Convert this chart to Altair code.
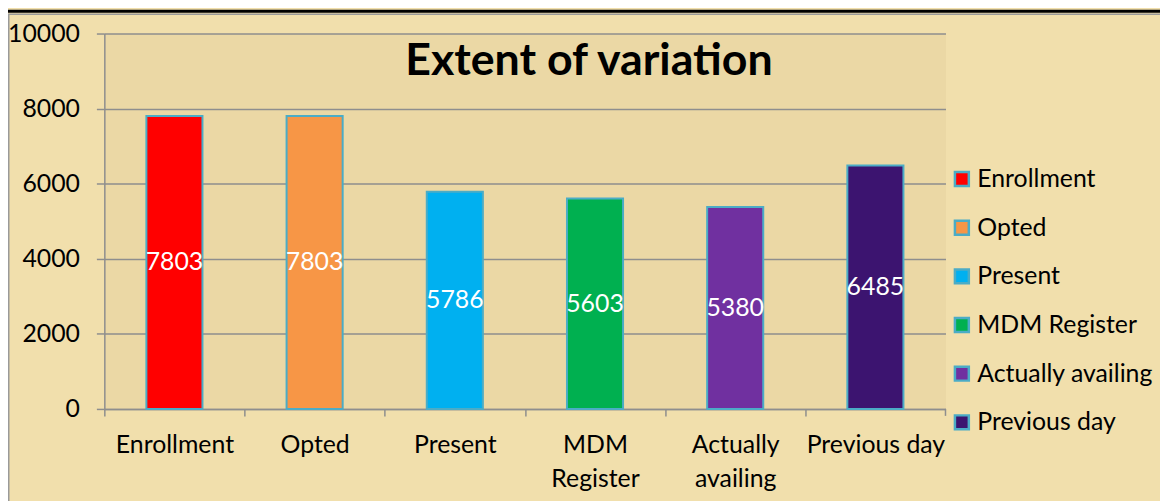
import altair as alt
import pandas as pd

CATEGORIES = ["Enrollment", "Opted", "Present", "MDM Register", "Actually availing", "Previous day"]
VALUES = [7803, 7803, 5786, 5603, 5380, 6485]
COLORS = ["#FF0000", "#F79646", "#00B0F0", "#00B050", "#7030A0", "#3C1470"]
AXIS_LINES = [["Enrollment"], ["Opted"], ["Present"], ["MDM", "Register"],
              ["Actually", "availing"], ["Previous day"]]
Y_TICKS = [0, 2000, 4000, 6000, 8000, 10000]
TITLE = "Extent of variation"

FONT = "Lato"
GRAY = "#8E8E8E"
W, H = 847, 378
STEP = W / len(CATEGORIES)

df = pd.DataFrame({"cat": CATEGORIES, "value": VALUES})

# multi-line axis label expression
expr = "datum.label"
for cat, lines in reversed(list(zip(CATEGORIES, AXIS_LINES))):
    if len(lines) > 1:
        arr = "[" + ",".join("'" + s + "'" for s in lines) + "]"
        expr = f"datum.label == '{cat}' ? {arr} : ({expr})"

x_enc = alt.X(
    "cat:N", sort=CATEGORIES,
    scale=alt.Scale(paddingInner=0.6, paddingOuter=0.3),
    axis=alt.Axis(title=None, labelAngle=0, tickOffset=-STEP / 2, labelOffset=STEP / 2,
                  tickSize=7, tickColor=GRAY, tickWidth=1.5,
                  domainColor=GRAY, domainWidth=1.5,
                  labelFont=FONT, labelFontSize=25, labelColor="black",
                  labelPadding=17, labelLineHeight=34, labelOverlap=False,
                  labelExpr=expr),
)
y_scale = alt.Scale(domain=[0, 10000])

base = alt.Chart(df)

bars = base.mark_bar(stroke="#4BACC6", strokeWidth=2).encode(
    x=x_enc,
    y=alt.Y("value:Q", scale=y_scale,
            axis=alt.Axis(title=None, values=Y_TICKS, format="d", tickSize=8, tickColor=GRAY,
                          tickWidth=1.5, domainColor=GRAY, domainWidth=1.5,
                          gridColor=GRAY, gridWidth=1.5,
                          labelFont=FONT, labelFontSize=25, labelColor="black",
                          labelPadding=17)),
    color=alt.Color("cat:N", sort=CATEGORIES,
                    scale=alt.Scale(domain=CATEGORIES, range=COLORS),
                    legend=alt.Legend(title=None, orient="none", legendX=851, legendY=134,
                                      direction="vertical", symbolType="square", symbolSize=196,
                                      symbolStrokeColor="#4BACC6", symbolStrokeWidth=2.5,
                                      labelFont=FONT, labelFontSize=25, labelColor="black",
                                      labelOffset=3, rowPadding=23, labelLimit=300)),
)

labels = base.transform_calculate(mid="datum.value / 2").mark_text(
    color="white", font=FONT, fontSize=25, baseline="middle", align="center"
).encode(
    x=alt.X("cat:N", sort=CATEGORIES),
    y=alt.Y("mid:Q", scale=y_scale),
    text=alt.Text("value:Q", format="d"),
)

title = alt.Chart(pd.DataFrame({"t": [TITLE]})).mark_text(
    font=FONT, fontSize=45, fontWeight="bold", color="black", align="center", baseline="alphabetic"
).encode(text="t:N", x=alt.value(488), y=alt.value(42))

one = pd.DataFrame({"a": [0]})
top_black = alt.Chart(one).mark_rule(color="black", strokeWidth=3).encode(
    x=alt.value(-97), x2=alt.value(1070), y=alt.value(-22.5))
top_gray = alt.Chart(one).mark_rule(color="#9A9A9A", strokeWidth=1.5).encode(
    x=alt.value(-97), x2=alt.value(1070), y=alt.value(-19.5))
left_gray = alt.Chart(one).mark_rule(color="#9A9A9A", strokeWidth=1.5).encode(
    x=alt.value(-96.25), y=alt.value(-19.5), y2=alt.value(480))
end_tick = alt.Chart(one).mark_rule(color=GRAY, strokeWidth=1.5).encode(
    x=alt.value(W), y=alt.value(H), y2=alt.value(H + 7))

chart = alt.layer(bars, labels, title, top_black, top_gray, left_gray, end_tick).properties(
    width=W, height=H,
    background="#F1DFAC",
    autosize=alt.AutoSizeParams(type="none"),
    padding={"left": 97, "top": 24, "right": 216, "bottom": 91},
).configure_view(fill="#EBD8A5", stroke="transparent")

chart.save("out.html", embed_options={"renderer": "svg", "actions": False})
